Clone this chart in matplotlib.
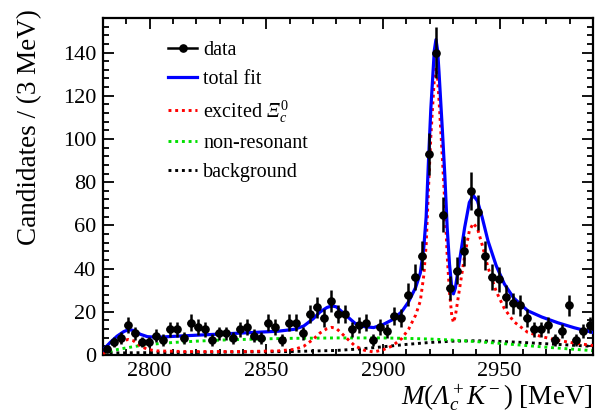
import numpy as np
import matplotlib
matplotlib.use('Agg')
import matplotlib.pyplot as plt
from matplotlib.lines import Line2D
from matplotlib.ticker import MultipleLocator

plt.rcParams['font.family'] = ['Liberation Serif', 'DejaVu Serif']
plt.rcParams['mathtext.fontset'] = 'custom'
plt.rcParams['mathtext.rm'] = 'Liberation Serif'
plt.rcParams['mathtext.it'] = 'Liberation Serif:italic'
plt.rcParams['mathtext.bf'] = 'Liberation Serif:bold'
# italic Greek capitals via the sf slot
plt.rcParams['mathtext.sf'] = 'Liberation Serif:italic'

# ---------------- data (3 MeV bins, 2780-2990 MeV) ----------------
bin_centers = np.arange(2781.5, 2990.0, 3.0)
counts = [3, 6, 8, 14, 10, 6, 6, 9, 7, 12,
          12, 8, 15, 13, 12, 7, 10, 10, 8, 12,
          13, 9, 8, 15, 13, 7, 15, 15, 10, 19,
          22, 17, 25, 19, 19, 12, 14, 15, 7, 13,
          11, 18, 17, 28, 36, 46, 93, 140, 65, 31,
          39, 48, 76, 66, 46, 36, 35, 27, 24, 23,
          17, 12, 12, 14, 7, 11, 23, 7, 11, 14]

# ---------------- fit components ----------------
sig_x = [2780, 2783, 2786, 2789, 2791, 2793, 2796, 2799, 2803, 2815, 2840, 2855,
         2862, 2866, 2870, 2873, 2876, 2878, 2880, 2882, 2885, 2888, 2892, 2896,
         2900, 2904, 2908, 2911, 2914, 2916, 2917.5, 2918.5, 2919.5, 2920.5, 2921.5,
         2922, 2922.7, 2923.4, 2924, 2925.5, 2926.5, 2927.5, 2928.5, 2929.5, 2930.2,
         2931, 2932, 2933, 2935, 2937, 2938.7, 2940.5, 2942.5, 2945, 2948.5, 2952,
         2956, 2962, 2968, 2975, 2982, 2990]
excited = [0.6, 3.0, 5.2, 6.8, 7.2, 6.6, 4.2, 2.6, 1.9, 1.6, 1.6, 1.9,
           2.6, 4.0, 7.2, 10.2, 12.2, 12.8, 12.3, 10.3, 7.2, 4.2, 2.2, 1.4,
           2.4, 4.2, 7.6, 12.0, 18.5, 25, 37, 51, 77, 101, 119,
           128, 133, 128, 118, 90, 70, 46, 29, 18, 15,
           18, 25, 32, 46, 57.5, 61, 58.5, 51, 40.5, 29.5, 21.5,
           15.5, 10.5, 8.5, 6.8, 5.5, 4.4]
total = [2.3, 5.7, 8.7, 10.9, 11.7, 11.4, 9.6, 8.5, 8.2, 8.9, 10.2, 11.0,
         11.9, 13.4, 16.7, 19.9, 22.0, 22.7, 22.3, 20.4, 17.5, 14.7, 13.1, 12.7,
         14.1, 16.3, 20.0, 24.7, 31.3, 38, 50, 64, 90, 114, 132,
         141, 146, 141, 131, 103, 83, 59, 42, 31, 28.3,
         31, 38, 45, 59, 70.6, 73.9, 71.3, 63.7, 52.8, 41.4, 32.9,
         26.4, 20.5, 17.6, 14.9, 12.6, 10.4]

nr_x = [2780, 2785, 2790, 2795, 2800, 2810, 2820, 2830, 2840, 2850, 2860, 2870,
        2880, 2890, 2900, 2910, 2920, 2930, 2940, 2950, 2960, 2970, 2980, 2990]
nonres = [0.8, 2.3, 3.3, 4.2, 4.9, 5.8, 6.4, 6.9, 7.2, 7.5, 7.7, 7.8,
          7.9, 7.9, 7.9, 7.7, 7.4, 6.9, 6.2, 5.4, 4.5, 3.6, 2.8, 2.0]

bkg_x = [2780, 2800, 2820, 2840, 2860, 2880, 2890, 2900, 2910, 2920, 2930, 2940,
         2950, 2960, 2970, 2980, 2990]
bkg = [0.9, 1.1, 1.2, 1.4, 1.6, 2.1, 2.8, 3.8, 4.9, 5.8, 6.4, 6.6,
       6.3, 5.8, 5.2, 4.6, 4.0]

# ---------------- figure ----------------
W, H = 597, 415
fig = plt.figure(figsize=(W / 100, H / 100), dpi=100)
ax = fig.add_axes([103 / W, 1 - 355 / H, 490 / W, 337 / H])

dot = (0, (1.0, 1.3))
ax.plot(bkg_x, bkg, color='black', lw=2.1, ls=dot, zorder=2)
ax.plot(nr_x, nonres, color='#00e000', lw=2.1, ls=dot, zorder=2)
ax.plot(sig_x, excited, color='#ff0000', lw=2.1, ls=dot, zorder=3)
ax.plot(sig_x, total, color='#0000ff', lw=2.3, zorder=4)

yerr = np.sqrt(np.array(counts, dtype=float))
ax.errorbar(bin_centers, counts, yerr=yerr, xerr=1.5, fmt='o', color='black',
            ms=5.2, elinewidth=1.8, capsize=0, zorder=5)

ax.set_xlim(2780, 2990)
ax.set_ylim(0, 156)
ax.xaxis.set_major_locator(MultipleLocator(50))
ax.xaxis.set_minor_locator(MultipleLocator(10))
ax.yaxis.set_major_locator(MultipleLocator(20))
ax.yaxis.set_minor_locator(MultipleLocator(4))
ax.tick_params(which='both', direction='in', top=True, right=True, width=1.3,
               labelsize=16, pad=5)
ax.tick_params(which='major', length=8)
ax.tick_params(which='minor', length=4.5)
for s in ax.spines.values():
    s.set_linewidth(1.6)

fig.text(30 / W, 1 - 9 / H, 'Candidates / (3 MeV)', rotation=90,
         ha='center', va='top', fontsize=19.5)
fig.text(593 / W, 1 - 398 / H, r'$M(\mathsf{Λ}_c^+K^-)$ [MeV]',
         ha='right', va='center', fontsize=19.5)

handles = [
    Line2D([], [], color='black', marker='o', ms=5.2, lw=1.8),
    Line2D([], [], color='#0000ff', lw=2.3),
    Line2D([], [], color='#ff0000', lw=2.1, ls=dot),
    Line2D([], [], color='#00e000', lw=2.1, ls=dot),
    Line2D([], [], color='black', lw=2.1, ls=dot),
]
labels = ['data', 'total fit', r'excited $\mathsf{Ξ}_c^{\,0}$', 'non-resonant', 'background']
fig.legend(handles, labels, loc='upper left', bbox_to_anchor=(168 / W, 1 - 41 / H),
           frameon=False, fontsize=14.5, handlelength=1.45, handletextpad=0.3,
           labelspacing=0.48, borderpad=0, borderaxespad=0)

fig.savefig('out.png', dpi=100)
